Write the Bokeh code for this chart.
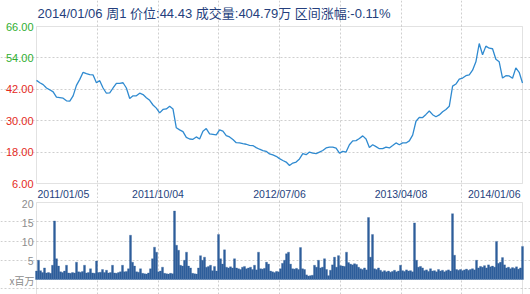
import numpy as np
from bokeh.plotting import figure
from bokeh.models import Range1d, FixedTicker, Label, BoxAnnotation
from bokeh.layouts import column
from bokeh.embed import file_html
from bokeh.resources import INLINE

# ---------------- data ----------------
title_text = "2014/01/06 周1 价位:44.43 成交量:404.79万 区间涨幅:-0.11%"
date_labels = ["2011/01/05", "2011/10/04", "2012/07/06", "2013/04/08", "2014/01/06"]
price_ticks = [6, 18, 30, 42, 54, 66]
price_tick_labels = ["6.00", "18.00", "30.00", "42.00", "54.00", "66.00"]
vol_ticks = [5, 10, 15, 20]
vol_tick_labels = ["5", "10", "15", "20"]
vol_unit = "x百万"

price = [45.4, 44.5, 43.8, 42.5, 41.8, 41.0, 39.0, 38.8, 38.6, 37.6, 37.5, 39.5, 43.5, 45.8, 48.5, 48.0,
         47.6, 47.5, 44.5, 45.3, 42.5, 40.5, 40.6, 42.5, 44.3, 44.3, 44.5, 42.5, 38.5, 39.5, 39.5, 40.5,
         40.0, 38.8, 37.8, 36.0, 34.8,
         33.0, 34.3, 34.5, 35.5, 34.5, 27.3, 26.5, 25.8, 23.6, 23.0, 22.9, 23.8, 23.0, 26.0, 27.0, 25.0,
         24.8, 24.6, 26.5, 26.0, 24.3, 23.8, 22.8, 21.6, 21.5, 21.2, 21.0, 20.6, 20.5, 19.7, 19.1, 18.6,
         18.3, 17.3, 16.9, 16.4, 15.5,
         14.8, 14.2, 12.9, 13.8, 14.2, 15.4, 17.4, 17.0, 18.0, 17.6, 17.4, 18.0, 18.6, 19.6, 19.9, 19.9,
         19.5, 17.6, 18.3, 18.0, 20.8, 22.3, 22.4, 23.2, 24.2, 23.0, 19.8, 20.8, 20.1, 19.3, 19.3, 19.9,
         19.6, 20.5, 21.5, 20.8,
         21.5, 21.5, 22.3, 24.5, 29.8, 31.3, 31.2, 32.4, 33.7, 32.3, 31.5, 32.2, 33.4, 34.3, 35.5, 43.2,
         44.0, 45.9, 46.3, 47.2, 47.5, 49.3, 52.5, 59.5, 55.2, 58.5, 57.7, 57.5, 53.5, 52.5, 46.3, 47.2,
         47.1, 46.2, 50.2, 48.5, 44.43]

volume = [2.2, 5.0, 2.3, 1.8, 3.0, 1.7, 1.8, 1.6, 3.7, 15.2,
          5.4, 3.5, 2.0, 1.8, 2.2, 3.7, 1.7, 1.6, 1.8, 1.7,
          4.5, 2.0, 1.9, 2.1, 3.7, 1.7, 1.8, 2.8, 1.7, 1.6,
          4.8, 1.8, 1.9, 2.6, 1.8, 2.4, 1.7, 1.8, 3.7, 1.7,
          1.6, 1.8, 2.0, 3.7, 2.0, 2.1, 2.8, 11.5, 4.5, 3.5,
          2.0, 1.9, 2.8, 1.6, 1.5, 1.4, 1.7, 2.8, 5.4, 8.4,
          7.1, 2.0, 2.2, 3.2, 1.6, 1.5, 1.4, 1.6, 1.5, 17.8,
          8.9, 7.6, 3.7, 3.5, 5.0, 7.1, 3.5, 3.0, 1.6,
          1.5, 1.4, 3.0, 6.2, 5.0, 5.8, 3.2, 3.4, 3.7, 2.3,
          3.4, 2.2, 11.7, 5.4, 4.0, 7.7, 3.2, 3.0, 3.3, 3.0,
          5.4, 3.0, 2.8, 2.6, 3.2, 3.4, 2.8, 3.0, 3.2, 2.6,
          3.7, 2.5, 7.1, 2.8, 2.7, 2.9, 4.5, 4.0, 2.2, 2.0,
          1.8, 2.1, 2.0, 2.8, 4.2, 5.0, 6.7, 7.1, 4.0, 2.8,
          2.7, 2.9, 2.6, 8.3, 2.8, 2.6, 1.2, 0.9, 1.0, 1.1,
          3.7, 3.2, 5.0, 3.0, 3.2, 5.4, 2.6, 1.0, 2.4, 3.8,
          5.8, 3.2, 6.2, 3.6, 3.5, 3.4, 7.1, 4.4, 4.0, 3.8,
          4.1, 3.9, 3.2,
          2.8, 2.6, 3.0, 2.5, 16.1, 5.8, 11.7, 2.8, 2.6, 3.0,
          2.4, 2.0, 2.3, 2.0, 2.2, 1.9, 2.1, 2.4, 2.0, 2.2,
          3.7, 2.3, 2.1, 2.5, 2.2, 2.3, 2.0, 14.7, 5.0, 3.2,
          3.4, 3.0, 2.3, 2.5, 2.1, 2.8, 2.2, 2.3, 2.0, 2.6,
          2.2, 2.4, 2.0, 2.3, 2.5, 2.2, 17.1, 6.3, 2.6, 2.4,
          2.6, 2.3, 2.5, 2.7, 2.4, 2.6, 2.8, 2.5, 5.0, 3.0,
          3.4, 3.2, 3.6, 3.0, 3.8, 3.3, 3.5, 3.2, 9.9, 4.2,
          4.5, 5.7, 3.8, 3.0, 3.2, 2.8, 3.1, 2.9, 3.3, 2.7,
          3.0, 8.6]

# ---------------- layout / styling ----------------
X_MAX = 730                      # trading-day span of the chart
px = np.linspace(0, X_MAX, len(price))
vx = np.linspace(0, X_MAX, len(volume))
grid_x = list(np.linspace(0, X_MAX, 9))
date_x = list(np.linspace(0, X_MAX, len(date_labels)))

W = 530
BOX_L, BOX_R = 36, 522           # pixel edges of the plot boxes
kx = X_MAX / (BOX_R - BOX_L)     # days per pixel
x_range = Range1d(-BOX_L * kx, X_MAX + (W - BOX_R) * kx)

# price panel: 198 px tall, box from y=26 to y=183
PH, P_TOP, P_BOT = 198, 26, 183
ps = (P_BOT - P_TOP) / (price_ticks[-1] - price_ticks[0])
p_range = Range1d(price_ticks[0] - (PH - P_BOT) / ps, price_ticks[-1] + P_TOP / ps)

# volume panel: 96 px tall, "20" at 4 px below its top, 3.85 px per unit
VH, V_TOP, vs = 96, 4, 3.85
v_end = vol_ticks[-1] + V_TOP / vs
v_range = Range1d(v_end - VH / vs, v_end)

GRID = "#cfcfcf"
BORDER = "#a0a0a0"
NAVY = "#253f7d"
NUM_FONT = "Liberation Sans"
CJK_FONT = "Noto Sans CJK SC"
TITLE_FONT = "Liberation Sans, Noto Sans CJK SC"


def base_fig(h, yr):
    f = figure(width=W, height=h, x_range=x_range, y_range=yr, output_backend="svg",
               toolbar_location=None, min_border=0)
    f.axis.visible = False
    f.outline_line_color = None
    f.grid.grid_line_color = GRID
    f.grid.grid_line_dash = "2 2"
    f.background_fill_color = "white"
    f.border_fill_color = "white"
    return f


# ---- price panel ----
pa = base_fig(PH, p_range)
pa.xgrid.ticker = FixedTicker(ticks=grid_x[1:-1])
pa.xgrid.bounds = (price_ticks[0], price_ticks[-1])
pa.ygrid.ticker = FixedTicker(ticks=price_ticks[1:-1])
pa.ygrid.bounds = (0, X_MAX)
pa.add_layout(BoxAnnotation(left=0, right=X_MAX, bottom=price_ticks[0], top=price_ticks[-1],
                            fill_alpha=0, line_color=BORDER, line_width=1, level="underlay"))
pa.line(px, price, line_color="#2f8ad0", line_width=1.3)

for v, t in zip(price_ticks, price_tick_labels):
    pa.add_layout(Label(x=0, y=v, x_offset=-3, text=t, text_align="right", text_baseline="middle",
                        text_font_size="11px", text_font=NUM_FONT,
                        text_color="#2fae2f" if v >= 54 else "#e42a22"))

aligns = ["left"] + ["center"] * (len(date_labels) - 2) + ["right"]
for xv, t, a in zip(date_x, date_labels, aligns):
    pa.add_layout(Label(x=xv, y=price_ticks[0], x_offset=(1 if a == "left" else (-2 if a == "right" else 0)),
                        y_offset=-10, text=t, text_align=a, text_baseline="middle",
                        text_font_size="10.5px", text_font=NUM_FONT, text_color=NAVY))

pa.add_layout(Label(x=0, y=price_ticks[-1], x_offset=1, y_offset=13, text=title_text,
                    text_align="left", text_baseline="middle", text_font_size="13px",
                    text_font=TITLE_FONT, text_color=NAVY))

# ---- volume panel ----
pb = base_fig(VH, v_range)
pb.xgrid.ticker = FixedTicker(ticks=grid_x[1:-1])
pb.xgrid.bounds = (v_range.start - 1, vol_ticks[-1])
pb.ygrid.ticker = FixedTicker(ticks=[-2.35] + vol_ticks[:-1])
pb.ygrid.bounds = (0, X_MAX)
pb.add_layout(BoxAnnotation(left=0, right=X_MAX, bottom=v_range.start - 1, top=vol_ticks[-1],
                            fill_alpha=0, line_color=BORDER, line_width=1, level="underlay"))
pb.vbar(x=vx, top=volume, bottom=0, width=X_MAX / (len(volume) - 1),
        fill_color="#2d5d9a", line_color="#2d5d9a", line_width=0.3)

for v, t in zip(vol_ticks, vol_tick_labels):
    pb.add_layout(Label(x=0, y=v, x_offset=-3, y_offset=-1, text=t, text_align="right",
                        text_baseline="middle", text_font_size="10.5px", text_font=NUM_FONT,
                        text_color="#8c8c8c"))
pb.add_layout(Label(x=0, y=0, x_offset=-2, y_offset=-1, text=vol_unit, text_align="right",
                    text_baseline="middle", text_font_size="10px", text_font=CJK_FONT,
                    text_color="#8c8c8c"))

layout = column(pa, pb, spacing=0)
open("out.html", "w").write(file_html(layout, INLINE))
